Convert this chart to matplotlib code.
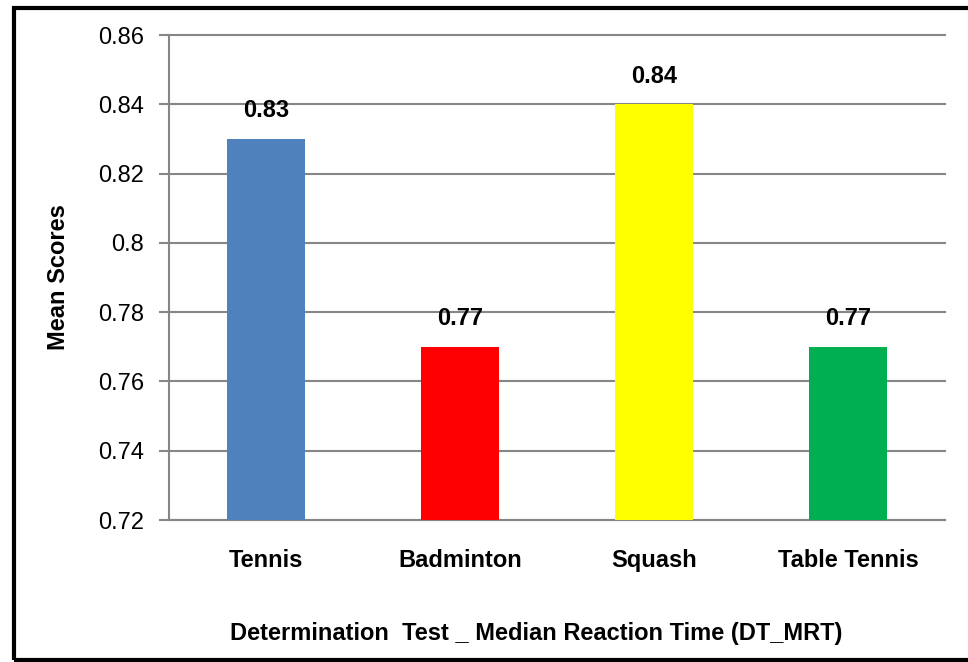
import matplotlib.pyplot as plt
from matplotlib.patches import Rectangle

# Datos del gráfico
sports = ['Tennis', 'Badminton', 'Squash', 'Table Tennis']
mean_scores = [0.83, 0.77, 0.84, 0.77]
bar_colors = ['#4F81BD', '#FF0000', '#FFFF00', '#00B050']
y_ticks = [0.72, 0.74, 0.76, 0.78, 0.8, 0.82, 0.84, 0.86]
y_tick_labels = ['0.72', '0.74', '0.76', '0.78', '0.8', '0.82', '0.84', '0.86']

plt.rcParams['font.family'] = ['Liberation Sans', 'DejaVu Sans']

fig = plt.figure(figsize=(9.68, 6.62), dpi=100)
ax = fig.add_axes([0.1746, 0.2145, 0.8017, 0.7326])

x = range(len(sports))
ax.bar(x, [v - 0.72 for v in mean_scores], bottom=0.72, width=0.4,
       color=bar_colors, zorder=3)

# Etiquetas de valores sobre las barras
for i, v in enumerate(mean_scores):
    ax.annotate(f'{v:.2f}', xy=(i, v), xytext=(0, 12), textcoords='offset points',
                ha='center', va='bottom', fontsize=17, fontweight='bold')

ax.set_xlim(-0.5, 3.5)
ax.set_ylim(0.72, 0.86)
ax.set_yticks(y_ticks)
ax.set_yticklabels(y_tick_labels, fontsize=17)
ax.set_xticks(list(x))
ax.set_xticklabels(sports, fontsize=17, fontweight='bold')
ax.tick_params(axis='x', length=0, pad=21)
ax.tick_params(axis='y', length=7, width=1.5, color='#868686', pad=11)

ax.yaxis.grid(True, color='#868686', linewidth=1.5, zorder=0)
for line in ax.get_ygridlines():
    line.set_clip_on(False)
for side in ['top', 'right']:
    ax.spines[side].set_visible(False)
for side in ['left', 'bottom']:
    ax.spines[side].set_color('#868686')
    ax.spines[side].set_linewidth(1.5)

ax.set_ylabel('Mean Scores', fontsize=17, fontweight='bold')
ax.yaxis.set_label_coords(-0.128, 0.5)
ax.set_xlabel('Determination  Test _ Median Reaction Time (DT_MRT)',
              fontsize=17, fontweight='bold')
ax.xaxis.set_label_coords(0.473, -0.21)

# Borde negro alrededor de la figura
fig.patches.append(Rectangle((0.0145, 0.003), 1.05, 0.985, transform=fig.transFigure,
                             fill=False, edgecolor='black', linewidth=3))

fig.savefig('out.png', dpi=100)
